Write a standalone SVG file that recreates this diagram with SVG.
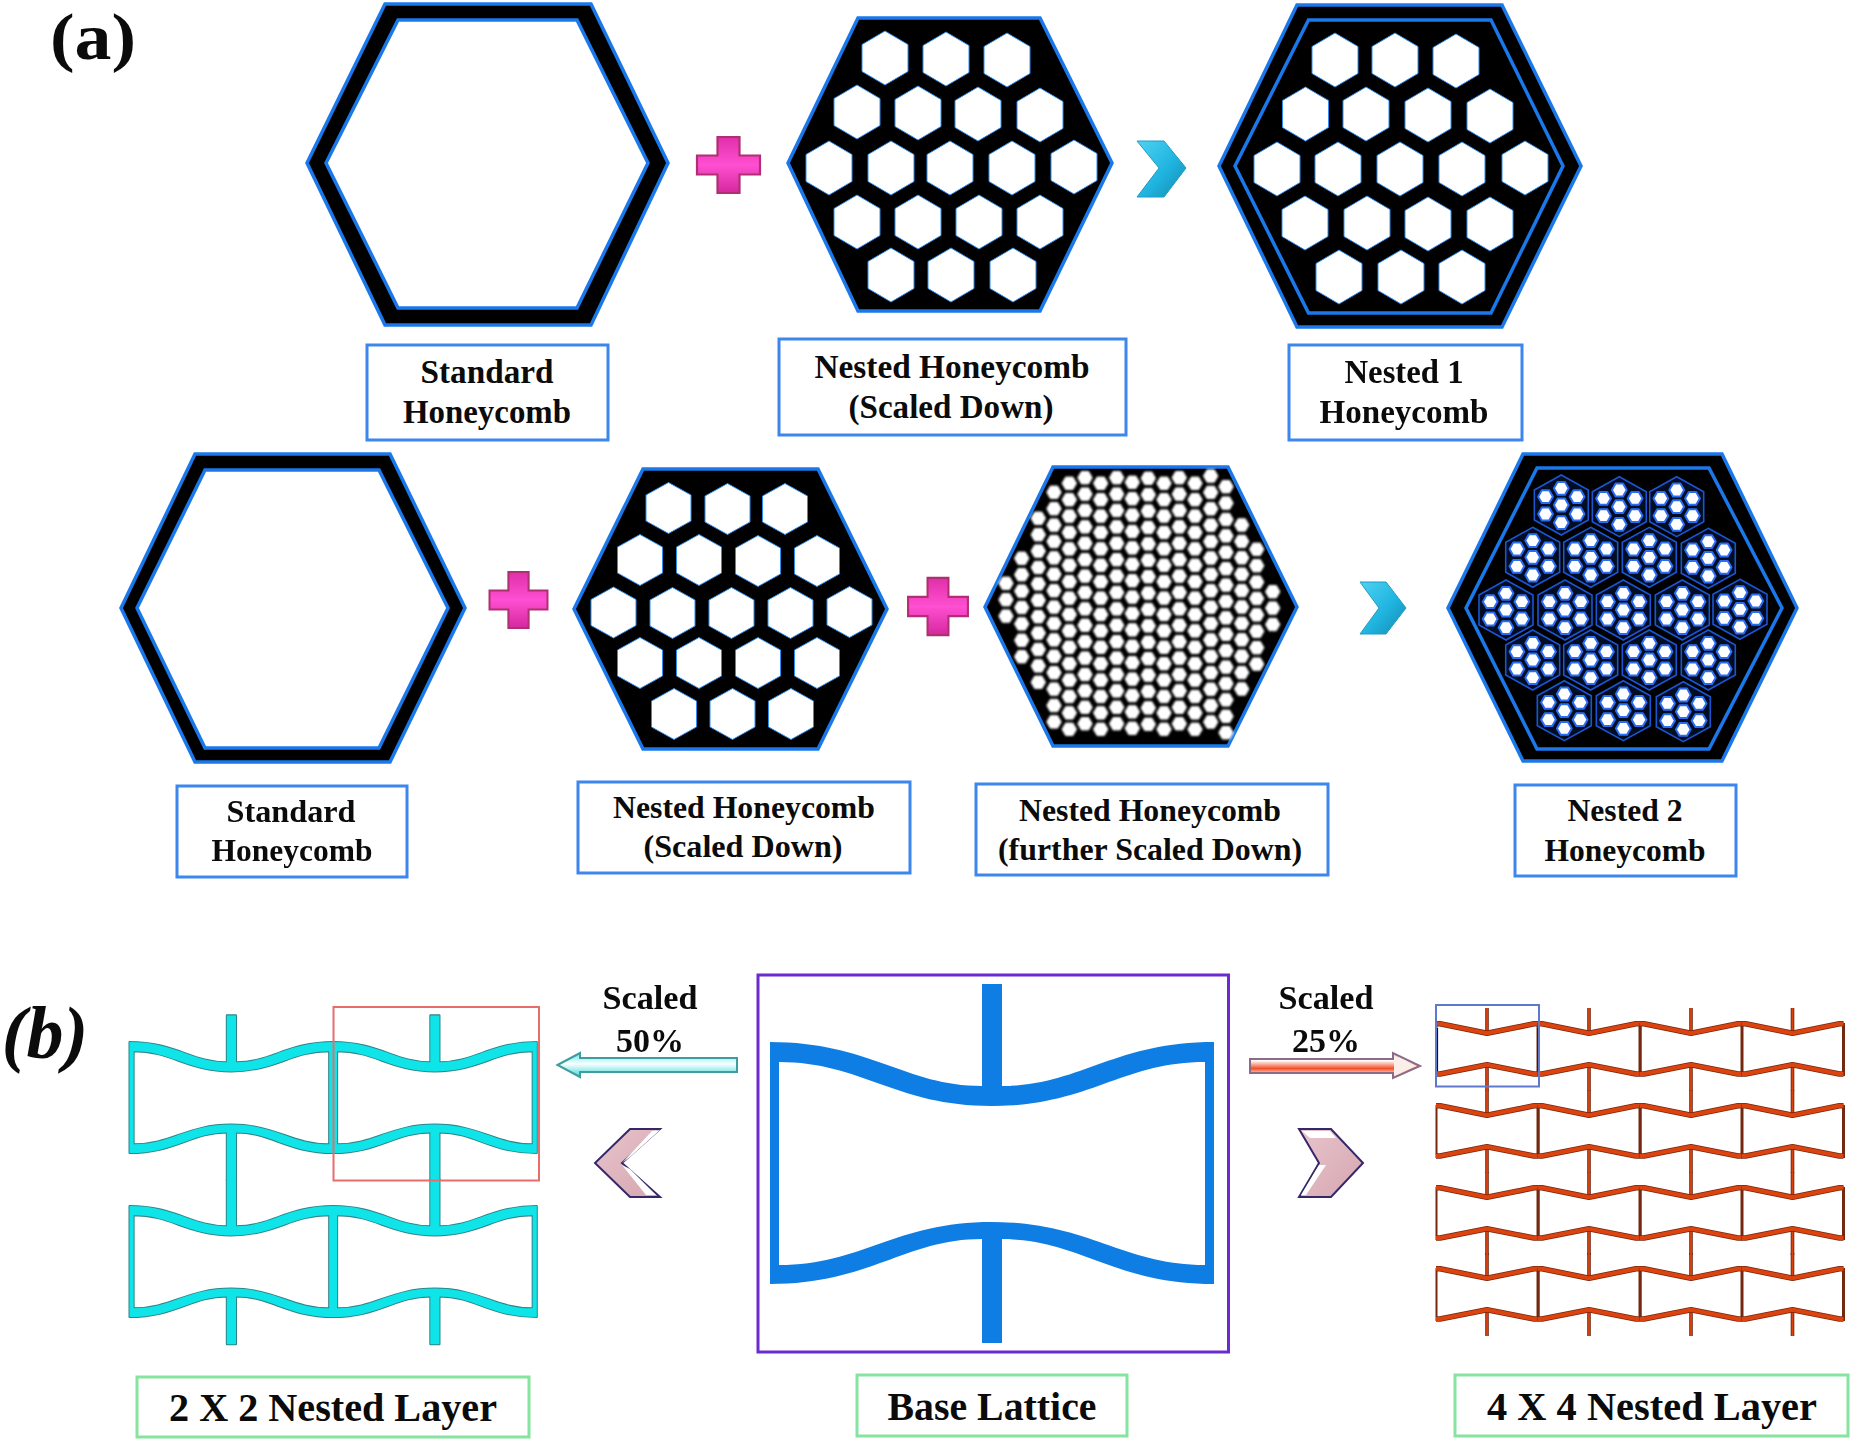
<svg xmlns="http://www.w3.org/2000/svg" width="1850" height="1441" viewBox="0 0 1850 1441">
<style>
text{font-family:"Liberation Serif","Times New Roman",serif;font-weight:bold;fill:#0b0b0b;text-anchor:middle}
.r1{font-size:33px}.r2{font-size:31px}.s{font-size:34px}.g{font-size:39px}
.hx{fill:#000;fill-rule:evenodd;stroke:#1a78ea;stroke-width:3.5;stroke-linejoin:miter}
.solid{fill:#000;stroke:#1a78ea;stroke-width:3.5}
.inner{fill:none;stroke:#1a78ea;stroke-width:3.5}
.lb{fill:#fff;stroke:#3d86ee;stroke-width:3}
.lg{fill:#fff;stroke:#86e3a0;stroke-width:3}
.w{fill:#fff;stroke:#2f8df0;stroke-width:1;stroke-linejoin:round}
.base{fill:#0f7ee4}
.cys{fill:none;stroke:#2f8488;stroke-width:4.4}
.cyf{fill:#0fe4e8;stroke:none}
.zd{fill:none;stroke:#74280f}
.zo{fill:none;stroke:#dc430f}
.plus{fill:url(#gp);stroke:#b02f72;stroke-width:2.2}
.chc{fill:url(#gc);stroke:#1f9cc4;stroke-width:1}
.chp{fill:url(#gk);stroke:#34286a;stroke-width:2}
.hl{fill:#fff}
</style>
<defs>
<filter id="soft" x="-5%" y="-5%" width="110%" height="110%"><feGaussianBlur stdDeviation=".8"/></filter>
<filter id="soft2" x="-5%" y="-5%" width="110%" height="110%"><feGaussianBlur stdDeviation=".45"/></filter>
<linearGradient id="gp" x1="0" y1="0" x2="0" y2="1"><stop offset="0" stop-color="#e02fa8"/><stop offset=".5" stop-color="#ff4fd2"/><stop offset="1" stop-color="#d4289e"/></linearGradient>
<linearGradient id="gc" x1="0" y1="0" x2="1" y2="1"><stop offset="0" stop-color="#4fd2f2"/><stop offset=".55" stop-color="#1fb4e0"/><stop offset="1" stop-color="#1588ad"/></linearGradient>
<linearGradient id="gk" x1="0" y1="0" x2="1" y2="1"><stop offset="0" stop-color="#e8c4cc"/><stop offset="1" stop-color="#d6a6b0"/></linearGradient>
<linearGradient id="ga" x1="0" y1="0" x2="0" y2="1"><stop offset="0" stop-color="#62e6e4"/><stop offset=".45" stop-color="#fbffff"/><stop offset="1" stop-color="#40d8d8"/></linearGradient>
<linearGradient id="gr" x1="0" y1="0" x2="0" y2="1"><stop offset="0" stop-color="#d8c8d8"/><stop offset=".3" stop-color="#ffffff"/><stop offset=".62" stop-color="#f4502a"/><stop offset=".82" stop-color="#fbd0c0"/><stop offset="1" stop-color="#d8c0d0"/></linearGradient>
<polygon id="p" class="plus" points="-11,-28 11,-28 11,-9.5 31.5,-9.5 31.5,9.5 11,9.5 11,28 -11,28 -11,9.5 -31.5,9.5 -31.5,-9.5 -11,-9.5"/>
<polygon id="w1" class="w" points="0,-27 23,-13.500 23,13.500 0,27 -23,13.500 -23,-13.500"/>
<polygon id="w2" class="w" points="0,-25.500 22.500,-13 22.500,13 0,25.500 -22.500,13 -22.500,-13"/>
<polygon id="e" fill="#fff" stroke="#fff" stroke-width="1" stroke-linejoin="round" points="-7.200,0 -3.600,-6.200 3.600,-6.200 7.200,0 3.600,6.200 -3.600,6.200"/>
<g id="c3"><use href="#e"/><use href="#e" y="16.4"/><use href="#e" y="32.8"/></g>
<g id="c4"><use href="#c3"/><use href="#e" y="49.2"/></g>
<g id="c7"><use href="#c3"/><use href="#c4" y="49.2"/></g>
<g id="c8"><use href="#c4"/><use href="#c4" y="65.6"/></g>
<g id="c11"><use href="#c8"/><use href="#c3" y="131.2"/></g>
<g id="c15"><use href="#c8"/><use href="#c7" y="131.2"/></g>
<g id="c16"><use href="#c8"/><use href="#c8" y="131.2"/></g>
<polygon id="d" fill="#fff" stroke="#2a6cf2" stroke-width="2" stroke-linejoin="round" points="-7.400,0 -3.700,-6.400 3.700,-6.400 7.400,0 3.700,6.400 -3.700,6.400"/>
<g id="sub">
<polygon fill="#040c24" stroke="#1c54d0" stroke-width="1.6" points="0,-30 27,-15 27,15 0,30 -27,15 -27,-15"/>
<use href="#d" y="-16.7"/><use href="#d" x="-15.8" y="-8.3"/><use href="#d" x="15.8" y="-8.3"/><use href="#d"/><use href="#d" x="-15.8" y="9"/><use href="#d" x="15.8" y="9"/><use href="#d" y="17.7"/>
</g>
<path id="cell" fill-rule="evenodd" stroke-linejoin="round" d="M0,0C100,0 135,44 212,44L212,-58L232,-58L232,44C309,44 344,0 444,0L444,242C344,242 309,197 232,197L232,301L212,301L212,197C135,197 100,242 0,242ZM9,20C92,20 125,64 222,64C319,64 352,20 435,20L435,223C352,223 319,180 222,180C125,180 92,223 9,223Z"/>
<g id="cells2">
<use href="#cell" transform="translate(129.500 1042) scale(.459)"/><use href="#cell" transform="translate(333 1042) scale(.459)"/><use href="#cell" transform="translate(129.500 1206) scale(.459)"/><use href="#cell" transform="translate(333 1206) scale(.459)"/>
</g>
<path id="zw" stroke-linejoin="round" d="M0,1.800L4,1.800L51,11.300L98,1.800L102,1.800M0,52L4,52L51,42.800L98,52L102,52"/>
<g id="z4">
<path class="zd" stroke-width="2" d="M.5,1V54"/>
<path class="zd" stroke-width="3" d="M102,1V54"/>
<path class="zd" stroke-width="3.600" d="M51,-14V10M51,43V69"/>
<path class="zo" stroke-width="1.800" d="M51,-14V10M51,43V69"/>
<use href="#zw" class="zd" stroke-width="5.600"/>
<use href="#zw" class="zo" stroke-width="4"/>
</g>
</defs>
<rect width="1850" height="1441" fill="#fff"/>
<text x="93" y="59" font-size="66" textLength="86" lengthAdjust="spacingAndGlyphs">(a)</text>
<text x="45" y="1058" font-size="74" font-style="italic">(b)</text>

<g id="hc-standard-1">
<path class="hx" d="M385,4H591L668,163L591,325H385L307,163ZM398,20H577L648,163L577,308H398L326,163Z"/>
<rect class="lb" x="367" y="345" width="241" height="95"/>
<text class="r1" x="487" y="383" textLength="133" lengthAdjust="spacingAndGlyphs">Standard</text>
<text class="r1" x="487" y="423" textLength="168" lengthAdjust="spacingAndGlyphs">Honeycomb</text>
</g>

<g id="hc-nested-1">
<polygon class="solid" points="858,18 1040,18 1112,163 1040,311 858,311 788,163"/>
<g filter="url(#soft2)">
<use href="#w1" x="885" y="58"/><use href="#w1" x="946" y="59"/><use href="#w1" x="1007" y="60"/>
<use href="#w1" x="857" y="112"/><use href="#w1" x="918" y="113"/><use href="#w1" x="978" y="114"/><use href="#w1" x="1040" y="115"/>
<use href="#w1" x="829" y="168"/><use href="#w1" x="891" y="168"/><use href="#w1" x="950" y="168"/><use href="#w1" x="1012" y="168"/><use href="#w1" x="1074" y="167"/>
<use href="#w1" x="857" y="222"/><use href="#w1" x="918" y="222"/><use href="#w1" x="979" y="222"/><use href="#w1" x="1040" y="222"/>
<use href="#w1" x="891" y="275"/><use href="#w1" x="951" y="275"/><use href="#w1" x="1013" y="275"/>
</g>
<rect class="lb" x="779" y="339" width="347" height="96"/>
<text class="r1" x="952" y="378" textLength="275" lengthAdjust="spacingAndGlyphs">Nested Honeycomb</text>
<text class="r1" x="951" y="418" textLength="205" lengthAdjust="spacingAndGlyphs">(Scaled Down)</text>
</g>

<g id="hc-nested1-result">
<polygon class="solid" points="1297,5 1502,5 1581,166 1502,327 1297,327 1219,166"/>
<polygon class="inner" points="1308.500,20 1491,20 1563,166 1491,313 1308.500,313 1235,166"/>
<g filter="url(#soft2)">
<use href="#w1" x="1335" y="60"/><use href="#w1" x="1395" y="60"/><use href="#w1" x="1456" y="61"/>
<use href="#w1" x="1305.500" y="114"/><use href="#w1" x="1366" y="114"/><use href="#w1" x="1428" y="115"/><use href="#w1" x="1490" y="116"/>
<use href="#w1" x="1277" y="169"/><use href="#w1" x="1338" y="169"/><use href="#w1" x="1400" y="169"/><use href="#w1" x="1462" y="169"/><use href="#w1" x="1525" y="168"/>
<use href="#w1" x="1305" y="223"/><use href="#w1" x="1367" y="223"/><use href="#w1" x="1428" y="224"/><use href="#w1" x="1490" y="224"/>
<use href="#w1" x="1339" y="277"/><use href="#w1" x="1401" y="277"/><use href="#w1" x="1462" y="277"/>
</g>
<rect class="lb" x="1289" y="345" width="233" height="95"/>
<text class="r1" x="1404" y="383" textLength="119" lengthAdjust="spacingAndGlyphs">Nested 1</text>
<text class="r1" x="1404" y="423" textLength="169" lengthAdjust="spacingAndGlyphs">Honeycomb</text>
</g>

<g id="hc-standard-2">
<path class="hx" d="M195,454H390L465,608L390,762H195L121,608ZM205,470H379L448,608L379,748H205L137,608Z"/>
<rect class="lb" x="177" y="786" width="230" height="91"/>
<text class="r2" x="291" y="822" textLength="129" lengthAdjust="spacingAndGlyphs">Standard</text>
<text class="r2" x="292" y="861" textLength="161" lengthAdjust="spacingAndGlyphs">Honeycomb</text>
</g>

<g id="hc-nested-2">
<polygon class="solid" points="643,469 818,469 887,609 818,749 643,749 574,609"/>
<g filter="url(#soft2)">
<use href="#w2" x="668.500" y="508"/><use href="#w2" x="727.500" y="509"/><use href="#w2" x="785" y="509"/>
<use href="#w2" x="640" y="560"/><use href="#w2" x="699" y="560"/><use href="#w2" x="758" y="561"/><use href="#w2" x="817" y="561"/>
<use href="#w2" x="613.500" y="612.500"/><use href="#w2" x="672.500" y="613"/><use href="#w2" x="731.500" y="613"/><use href="#w2" x="790.500" y="613"/><use href="#w2" x="849.500" y="612"/>
<use href="#w2" x="640" y="663"/><use href="#w2" x="699" y="663"/><use href="#w2" x="758" y="663"/><use href="#w2" x="817" y="663"/>
<use href="#w2" x="674" y="714"/><use href="#w2" x="732.500" y="714"/><use href="#w2" x="791" y="714"/>
</g>
<rect class="lb" x="578" y="782" width="332" height="91"/>
<text class="r2" x="744" y="818" textLength="262" lengthAdjust="spacingAndGlyphs">Nested Honeycomb</text>
<text class="r2" x="743" y="857" textLength="199" lengthAdjust="spacingAndGlyphs">(Scaled Down)</text>
</g>

<g id="hc-further">
<polygon class="solid" points="1053,467 1228,467 1297,607 1228,746 1053,746 985,607"/>
<g filter="url(#soft)">
<use href="#c3" x="1006" y="583.300"/><use href="#c7" x="1021.700" y="558.300"/><use href="#c11" x="1038.300" y="518.300"/><use href="#c15" x="1054" y="492.300"/><use href="#c16" x="1069.300" y="483.300"/><use href="#c16" x="1085" y="477.700"/><use href="#c16" x="1100.700" y="483.300"/><use href="#c16" x="1116.700" y="477.700"/><use href="#c16" x="1132.300" y="482.300"/><use href="#c16" x="1148.300" y="478.300"/><use href="#c16" x="1164" y="483.300"/><use href="#c16" x="1179.300" y="477.700"/><use href="#c16" x="1195" y="483.300"/><use href="#c16" x="1210.700" y="476"/><use href="#c16" x="1226" y="486.700"/><use href="#c11" x="1241.700" y="525"/><use href="#c8" x="1256.700" y="549.300"/><use href="#c3" x="1272.700" y="591.700"/>
</g>
<rect class="lb" x="976" y="784" width="352" height="91"/>
<text class="r2" x="1150" y="821" textLength="262" lengthAdjust="spacingAndGlyphs">Nested Honeycomb</text>
<text class="r2" x="1150" y="860" textLength="304" lengthAdjust="spacingAndGlyphs">(further Scaled Down)</text>
</g>

<g id="hc-nested2-result">
<polygon class="solid" points="1523,454 1722,454 1797,608 1722,761 1523,761 1448,608"/>
<polygon class="inner" points="1537,468 1709,468 1782,608 1709,749 1537,749 1466,608"/>
<g filter="url(#soft2)">
<use href="#sub" x="1561.300" y="505"/><use href="#sub" x="1619.300" y="506.700"/><use href="#sub" x="1676.700" y="506.700"/>
<use href="#sub" x="1532.700" y="557.300"/><use href="#sub" x="1590.700" y="557.300"/><use href="#sub" x="1649.300" y="557.300"/><use href="#sub" x="1708.300" y="558.300"/>
<use href="#sub" x="1506" y="610"/><use href="#sub" x="1565" y="610"/><use href="#sub" x="1623.300" y="610"/><use href="#sub" x="1682.300" y="610"/><use href="#sub" x="1740" y="609.300"/>
<use href="#sub" x="1532.700" y="660"/><use href="#sub" x="1590.700" y="660"/><use href="#sub" x="1649.300" y="660"/><use href="#sub" x="1708.300" y="660"/>
<use href="#sub" x="1564.300" y="710.700"/><use href="#sub" x="1623.300" y="710.700"/><use href="#sub" x="1683.300" y="711.700"/>
</g>
<rect class="lb" x="1515" y="785" width="221" height="91"/>
<text class="r2" x="1625" y="821" textLength="115" lengthAdjust="spacingAndGlyphs">Nested 2</text>
<text class="r2" x="1625" y="861" textLength="161" lengthAdjust="spacingAndGlyphs">Honeycomb</text>
</g>

<g id="base-lattice">
<rect x="758" y="975" width="470.500" height="377" fill="#fff" stroke="#6a2bd0" stroke-width="3"/>
<use href="#cell" class="base" transform="translate(770 1042)"/>
<rect class="lg" x="857" y="1375" width="270" height="61"/>
<text class="g" x="992" y="1420" textLength="209" lengthAdjust="spacingAndGlyphs">Base Lattice</text>
</g>

<g id="layer-2x2">
<use href="#cells2" class="cys"/>
<use href="#cells2" class="cyf"/>
<rect x="333.500" y="1007" width="205.500" height="173.500" fill="none" stroke="#e86c6c" stroke-width="2"/>
<rect class="lg" x="137" y="1377" width="392" height="60"/>
<text class="g" x="333" y="1421" textLength="328" lengthAdjust="spacingAndGlyphs">2 X 2 Nested Layer</text>
</g>

<g id="layer-4x4">
<use href="#z4" x="1436" y="1022"/><use href="#z4" x="1538" y="1022"/><use href="#z4" x="1640" y="1022"/><use href="#z4" x="1741.500" y="1022"/>
<use href="#z4" x="1436" y="1104"/><use href="#z4" x="1538" y="1104"/><use href="#z4" x="1640" y="1104"/><use href="#z4" x="1741.500" y="1104"/>
<use href="#z4" x="1436" y="1186"/><use href="#z4" x="1538" y="1186"/><use href="#z4" x="1640" y="1186"/><use href="#z4" x="1741.500" y="1186"/>
<use href="#z4" x="1436" y="1267"/><use href="#z4" x="1538" y="1267"/><use href="#z4" x="1640" y="1267"/><use href="#z4" x="1741.500" y="1267"/>
<path d="M1437,1028V1071M1538.500,1028V1071" fill="none" stroke="#111" stroke-width="2.200"/>
<rect x="1436" y="1005" width="103" height="81.500" fill="none" stroke="#5f78cc" stroke-width="2"/>
<rect class="lg" x="1455" y="1375" width="393" height="61"/>
<text class="g" x="1652" y="1420" textLength="330" lengthAdjust="spacingAndGlyphs">4 X 4 Nested Layer</text>
</g>

<g id="connectors">
<use href="#p" transform="translate(728.500 165)"/>
<use href="#p" transform="translate(518.500 600) scale(.92 1)"/>
<use href="#p" transform="translate(938 606.500) scale(.95 1.02)"/>
<polygon class="chc" points="1137,141 1164,141 1186,168 1164,197 1137,197 1159,168"/>
<polygon class="chc" points="1360,582 1386,582 1406,608 1386,634 1360,634 1379,608"/>
<polygon fill="url(#ga)" stroke="#3f9ca0" stroke-width="2" points="557.500,1065 580,1053 580,1058 737,1058 737,1072 580,1072 580,1077"/>
<polygon fill="url(#gr)" stroke="#8a6c84" stroke-width="2" points="1250,1059 1393,1059 1393,1053 1420,1066 1393,1078 1393,1073 1250,1073"/>
<polygon fill="#fbeee8" points="1394,1056 1417,1066 1394,1076"/>
<polygon class="chp" points="630,1129 660,1129 622,1163 660,1197 630,1197 595,1163"/>
<polygon class="hl" points="652,1131 660,1130 630,1157 622,1163"/>
<polygon class="hl" points="622,1165 630,1169 656,1195 646,1195"/>
<polygon class="chp" points="1299,1129 1331,1129 1363,1163 1331,1197 1299,1197 1319,1163"/>
<polygon class="hl" points="1302,1131 1330,1131 1336,1138 1310,1138"/>
<polygon class="hl" points="1319,1165 1326,1165 1306,1195 1301,1195"/>
<text class="s" x="650" y="1009" textLength="95" lengthAdjust="spacingAndGlyphs">Scaled</text>
<text class="s" x="650" y="1052">50%</text>
<text class="s" x="1326" y="1009" textLength="95" lengthAdjust="spacingAndGlyphs">Scaled</text>
<text class="s" x="1326" y="1052">25%</text>
</g>
</svg>
